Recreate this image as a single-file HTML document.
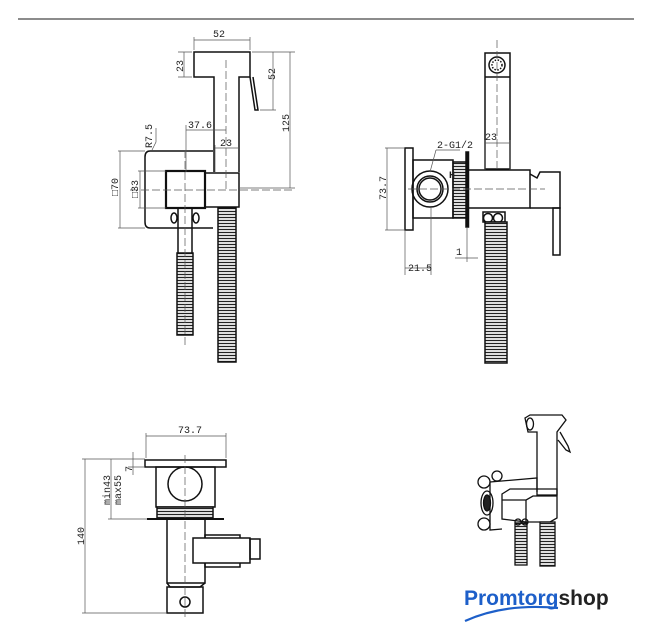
<!DOCTYPE html>
<html><head><meta charset="utf-8"><style>
html,body{margin:0;padding:0;background:#fff;}
svg{display:block;}
text{font-family:"Liberation Mono","DejaVu Sans Mono",monospace;font-size:10px;fill:#222;}
</style></head><body>
<svg width="654" height="640" viewBox="0 0 654 640" xmlns="http://www.w3.org/2000/svg">
<defs>
<pattern id="hz" width="4" height="3" patternUnits="userSpaceOnUse"><rect width="4" height="3" fill="#fff"/><line x1="0" y1="1.5" x2="4" y2="1.5" stroke="#222" stroke-width="1.3"/></pattern>
</defs>
<line x1="18" y1="19" x2="634" y2="19" stroke="#666" stroke-width="1.5"/>

<!-- VIEW 1 -->
<g stroke="#111" fill="none" stroke-width="1.5">
<path d="M214,172 V77 H194 V52 H250 V77 H239 V172"/>
<path d="M250,77 L255,110 L258,110 L253,77"/>
<path d="M213,151 H150 Q145,151 145,157 V222 Q145,228 150,228 H213"/>
<rect x="166" y="171" width="39" height="37" stroke-width="2.2"/>
<rect x="205" y="173" width="34" height="34"/>
<path d="M178,208 V253 M192,208 V253"/>
<rect x="177" y="253" width="16" height="82" fill="url(#hz)"/>
<rect x="218" y="208" width="18" height="154" fill="url(#hz)"/>
<ellipse cx="174" cy="218" rx="3" ry="5"/><ellipse cx="196" cy="218" rx="3" ry="5"/>
</g>
<g stroke="#555" stroke-width="0.7" fill="none">
<path d="M194,37 V50 M250,37 V50 M194,40 H250"/>
<path d="M178,52 H192 M178,77 H192 M184,52 V77"/>
<path d="M252,52 H295 M260,110 H276 M273,52 V110"/>
<path d="M240,188 H295 M290,52 V188"/>
<path d="M118,151 H145 M118,228 H145 M120,151 V228"/>
<path d="M138,171 H166 M138,208 H166 M140,171 V208"/>
<path d="M186,125 V172 M186,130 H226 M215,145 V172 M215,148 H239"/>
<path d="M152,150 L156,142 V128"/>
<path stroke-dasharray="8,3" d="M130,190 H295 M226,60 V190 M185,150 V345"/>
</g>
<text x="213" y="37">52</text>
<text transform="translate(183,72) rotate(-90)">23</text>
<text transform="translate(275,80) rotate(-90)">52</text>
<text transform="translate(289,132) rotate(-90)">125</text>
<text x="188" y="128">37.6</text>
<text x="220" y="146">23</text>
<text transform="translate(152,148) rotate(-90)" font-size="9">R7.5</text>
<text transform="translate(118,196) rotate(-90)">□70</text>
<text transform="translate(138,198) rotate(-90)">□33</text>

<!-- VIEW 2 -->
<g stroke="#111" fill="none" stroke-width="1.5">
<rect x="485" y="53" width="25" height="116"/>
<line x1="485" y1="77" x2="510" y2="77"/>
<circle cx="497" cy="65" r="8"/><circle cx="497" cy="65" r="5" stroke-dasharray="1.5,1.5"/>
<rect x="468" y="170" width="62" height="38"/>
<path d="M530,174 L537,178 L540,172 H560 V208 H530"/>
<rect x="553" y="208" width="7" height="47"/>
<rect x="466" y="152" width="2.5" height="75" fill="#111"/>
<rect x="453" y="162" width="13" height="56" fill="url(#hz)"/>
<rect x="413" y="160" width="40" height="58"/>
<rect x="405" y="148" width="8" height="82"/>
<circle cx="430" cy="189" r="18"/><circle cx="430" cy="189" r="13"/><circle cx="430" cy="189" r="11"/>
<rect x="483" y="212" width="22" height="10"/>
<circle cx="488" cy="218" r="4.5"/><circle cx="498" cy="218" r="4.5"/>
<rect x="485" y="222" width="22" height="141" fill="url(#hz)"/>
</g>
<g stroke="#555" stroke-width="0.7" fill="none">
<path d="M485,140 V170 M510,140 V170 M485,143 H510"/>
<path d="M385,148 H405 M385,230 H405 M387,148 V230"/>
<path d="M405,230 V275 M431,207 V275 M405,268 H431"/>
<path d="M467,228 V262 M455,258 H478"/>
<path d="M436,150 H460 M436,150 L430,172"/>
<path stroke-dasharray="8,3" d="M408,189 H545 M497,40 V170"/>
</g>
<text x="485" y="140">23</text>
<text x="437" y="148">2-G1/2</text>
<text transform="translate(386,200) rotate(-90)">73.7</text>
<text x="408" y="271">21.5</text>
<text x="456" y="255">1</text>
<text x="449" y="178" font-size="7" font-weight="bold">H</text>

<!-- VIEW 3 -->
<g stroke="#111" fill="none" stroke-width="1.5">
<rect x="145" y="460" width="81" height="7"/>
<rect x="156" y="467" width="59" height="40"/>
<circle cx="185" cy="484" r="17"/>
<rect x="157" y="507" width="56" height="12" fill="url(#hz)"/>
<line x1="147" y1="519" x2="224" y2="519" stroke-width="2"/>
<rect x="167" y="519" width="38" height="64"/>
<rect x="205" y="535" width="35" height="32"/>
<rect x="193" y="538" width="57" height="25" fill="#fff"/>
<rect x="250" y="539" width="10" height="20"/>
<path d="M167,583 L170,587 H200 L205,583"/>
<rect x="167" y="587" width="36" height="26"/>
<circle cx="185" cy="602" r="5"/>
</g>
<g stroke="#555" stroke-width="0.7" fill="none">
<path d="M146,433 V458 M226,433 V458 M146,436 H226"/>
<path d="M82,459 H145 M82,613 H167 M85,459 V613"/>
<path d="M108,519 H147 M111,459 V519"/>
<path d="M128,467 H145 M133,452 V475"/>
<path stroke-dasharray="8,3" d="M185,455 V620"/>
</g>
<text x="178" y="433">73.7</text>
<text transform="translate(84,545) rotate(-90)">140</text>
<text transform="translate(110,505) rotate(-90)" font-size="9">min43</text>
<text transform="translate(121,505) rotate(-90)" font-size="9">max55</text>
<text transform="translate(132,472) rotate(-90)" font-size="9">7</text>

<!-- VIEW 4 isometric -->
<g stroke="#111" fill="none" stroke-width="1.3">
<path d="M525,418 L530,415 H562 L566,420 L557,432 V495 H537 V432 H528 Z"/>
<ellipse cx="530" cy="424" rx="3.5" ry="6"/>
<path d="M560,432 L568,446 L570,452 L566,450 L558,440"/>
<path d="M490,482 L537,478 V492 M490,482 V530 L502,529"/>
<circle cx="484" cy="482" r="6"/><circle cx="484" cy="524" r="6"/><circle cx="497" cy="476" r="5"/>
<ellipse cx="487" cy="503" rx="6" ry="12"/><ellipse cx="487" cy="503" rx="3.5" ry="8" fill="#222"/>
<path d="M502,494 L510,489 H557 V518 L550,522 H526 L502,519 Z M526,522 V500 L533,496 H557 M526,500 H502"/>
<rect x="515" y="523" width="12" height="42" fill="url(#hz)"/>
<rect x="540" y="522" width="15" height="44" fill="url(#hz)"/>
<circle cx="518" cy="522" r="3"/><circle cx="525" cy="522" r="3"/>
</g>

<!-- Logo -->
<text x="464" y="605" style="font-family:'Liberation Sans',sans-serif;font-size:21px;font-weight:bold;fill:#1d5fc9">Promtorg<tspan style="fill:#222">shop</tspan></text>
<path d="M465,621 Q505,603 558,608" stroke="#1d5fc9" stroke-width="2.2" fill="none"/>
</svg>
</body></html>
